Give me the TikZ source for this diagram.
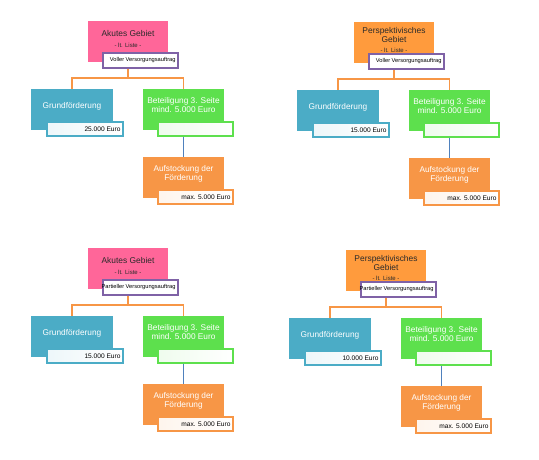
\documentclass[tikz,border=0pt]{standalone}
\usepackage{fontspec}
\setmainfont{Liberation Sans}
\definecolor{cpink}{HTML}{FF6699}
\definecolor{ctoporange}{HTML}{FF9B3D}
\definecolor{cblue}{HTML}{4BACC6}
\definecolor{cgreen}{HTML}{5DE04D}
\definecolor{corange}{HTML}{F79646}
\definecolor{cpurple}{HTML}{7F62A6}
\definecolor{cline}{HTML}{F79646}
\definecolor{cblueline}{HTML}{4F81BD}
\definecolor{ctitle}{HTML}{2A2A2A}
\tikzset{
  box/.style={rectangle, inner sep=0pt, minimum width=81pt, minimum height=41pt, draw=none},
  topbox/.style={box, minimum width=80pt},
  bluebox/.style={box, fill=cblue, minimum width=82pt},
  greenbox/.style={box, fill=cgreen},
  orangebox/.style={box, fill=corange},
  titletext/.style={align=center, inner sep=0pt, text=ctitle, font=\fontsize{8.4}{8.4}\selectfont},
  boxtext/.style={align=center, inner sep=0pt, text=white, font=\fontsize{8.3}{9}\selectfont},
  amountbox/.style={rectangle, inner sep=0pt, minimum width=75pt, minimum height=14pt, line width=1.3pt, right color=white, font=\fontsize{6.6}{7}\selectfont, text=black},
  auftragbox/.style={rectangle, inner sep=0pt, minimum width=75pt, minimum height=15pt, line width=1.3pt, draw=cpurple, fill=white, font=\fontsize{5.7}{6}\selectfont, text=black},
  conn/.style={draw=cline, line width=1.4pt},
  bconn/.style={draw=cblueline, line width=1.4pt},
}
\newcommand\myamount[2]{\hbox to #1pt{\hss #2\hspace{2.5pt}}}
\newcommand\mydiag[7]{%
  \begin{scope}[shift={(#2,#3)}]
    \node[topbox, fill=#4] (#1t) at (40,20.5) {};
    \node[titletext] (#1tt) at ([yshift=2.5pt]#1t.center) {#5\\[2pt]{\fontsize{6}{7}\selectfont - lt. Liste -}};
    \node[auftragbox] (#1p) at (52.5,39.5) {\myamount{75}{#6}};
    \node[bluebox] (#1b) at (-16,88.5) {};
    \node[boxtext] (#1bt) at ([yshift=3.2pt]#1b.center) {Grundförderung};
    \node[amountbox, draw=cblue, left color=cblue!10!white, minimum width=76pt] (#1bl) at (-3,108) {\myamount{76}{#7}};
    \node[greenbox] (#1g) at (95.5,88.5) {};
    \node[boxtext] (#1gt) at ([yshift=4pt]#1g.center) {Beteiligung 3. Seite\\mind. 5.000 Euro};
    \node[amountbox, draw=cgreen, left color=cgreen!10!white] (#1gl) at (107.5,108) {};
    \node[orangebox] (#1o) at (95.5,156.5) {};
    \node[boxtext] (#1ot) at ([yshift=3.5pt]#1o.center) {Aufstockung der\\Förderung};
    \node[amountbox, draw=corange, left color=corange!10!white] (#1ol) at (107.5,176) {\myamount{75}{max. 5.000 Euro}};
    \draw[conn] (#1t.south |- #1p.south) -- ++(0,9.5) coordinate (#1j);
    \draw[conn] (#1b.north) |- (#1j) -| (#1g.north);
    \draw[bconn] (#1g.south |- #1gl.south) -- (#1o.north);
  \end{scope}}
\begin{document}
\begin{tikzpicture}[x=1pt,y=-1pt]
  \useasboundingbox[fill=white] (0,0) rectangle (539,459);
  \mydiag{A}{88}{21}{cpink}{Akutes Gebiet}{Voller Versorgungsauftrag}{25.000 Euro}
  \mydiag{B}{354}{22}{ctoporange}{Perspektivisches\\Gebiet}{Voller Versorgungsauftrag}{15.000 Euro}
  \mydiag{C}{88}{248}{cpink}{Akutes Gebiet}{Partieller Versorgungsauftrag}{15.000 Euro}
  \mydiag{D}{346}{250}{ctoporange}{Perspektivisches\\Gebiet}{Partieller Versorgungsauftrag}{10.000 Euro}
\end{tikzpicture}
\end{document}
